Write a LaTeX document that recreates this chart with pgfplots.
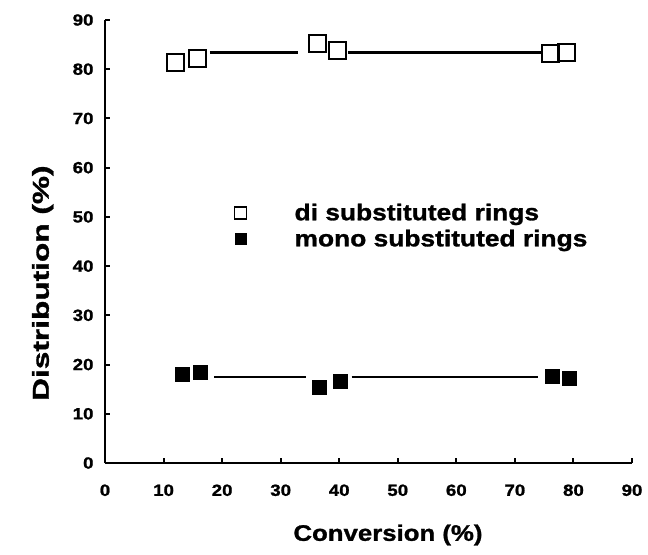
\documentclass[border=0pt]{standalone}
\usepackage{fontspec}
\setmainfont{Liberation Sans}[FakeStretch=1.15, BoldFeatures={FakeBold=1.2}]
\usepackage{pgfplots}
\pgfplotsset{compat=1.18}
\begin{document}
\begin{tikzpicture}
\useasboundingbox (-105bp,-92bp) rectangle (543bp,463bp);
\begin{axis}[
  scale only axis, width=527bp, height=443bp,
  xmin=0, xmax=90, ymin=0, ymax=90,
  axis lines*=left,
  axis line style={line width=2.5bp},
  xtick={0,10,...,90}, ytick={0,10,...,90},
  tick align=inside, major tick length=5bp,
  tick style={line width=2bp, black},
  /pgf/number format/assume math mode=true,
  ticklabel style={font=\fontsize{16.3}{18}\selectfont\bfseries},
  xticklabel style={yshift=-18bp},
  yticklabel style={xshift=-8bp},
  xlabel={Conversion (\%)},
  xlabel style={at={(axis description cs:0.537,-0.1625)}, anchor=center, font=\fontsize{22.5}{26}\selectfont\bfseries},
  ylabel={\scalebox{1.2}[1]{Distribution (\%)}},
  ylabel style={at={(axis description cs:-0.118,0.406)}, anchor=center, font=\fontsize{23}{26}\selectfont\bfseries},
  legend style={at={(axis cs:22.1,48.2)}, anchor=west, draw=none, fill=none, inner sep=0pt,
    font=\fontsize{23}{26}\selectfont\bfseries, row sep=4bp, column sep=46bp},
  legend cell align=left,
]
\addlegendimage{only marks, mark=square, mark size=6bp, line width=1.6bp, black}
\addlegendentry{di substituted rings}
\addlegendimage{only marks, mark=square*, mark size=5.5bp, black}
\addlegendentry{mono substituted rings}

% trend segments
\addplot[line width=2.2bp, black, no marks, forget plot] coordinates {(17.9,83.4) (33.0,83.4)};
\addplot[line width=2.2bp, black, no marks, forget plot] coordinates {(41.5,83.4) (74.6,83.4)};
\addplot[line width=2.2bp, black, no marks, forget plot] coordinates {(18.7,17.5) (34.4,17.5)};
\addplot[line width=2.2bp, black, no marks, forget plot] coordinates {(42.1,17.5) (73.9,17.5)};

% di substituted
\addplot[only marks, mark=square, mark size=8.5bp, line width=2bp, black, forget plot]
  coordinates {(12.1,81.4) (15.8,82.2) (36.3,85.2) (39.7,83.9) (76.1,83.2) (78.9,83.3)};
% mono substituted
\addplot[only marks, mark=square*, mark size=7bp, black, forget plot]
  coordinates {(13.1,18.0) (16.3,18.4) (36.5,15.4) (40.1,16.7) (76.3,17.7) (79.2,17.2)};
\end{axis}
\end{tikzpicture}
\end{document}
